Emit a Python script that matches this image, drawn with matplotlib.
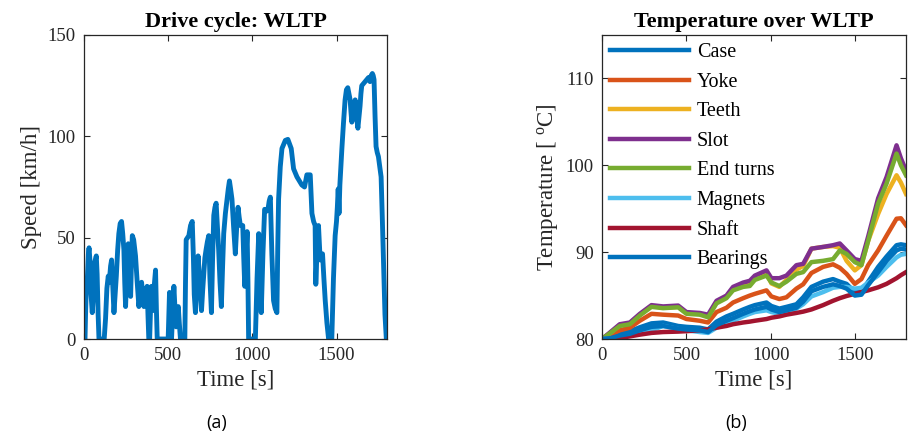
import matplotlib
matplotlib.use("Agg")
import matplotlib.pyplot as plt

# drive cycle
speed_t = [0, 6, 10, 14, 20, 26, 30, 36, 42, 49, 56, 64, 73, 78, 84, 89, 120, 128, 136, 144,
           150, 158, 164, 170, 178, 185, 192, 200, 207, 215, 223, 230, 237, 242, 247, 255,
           263, 270, 277, 282, 287, 295, 306, 316, 326, 334, 342, 349, 356, 365, 375, 380,
           385, 390, 395, 401, 405, 409, 417, 425, 430, 435, 500, 504, 508, 514, 520, 527,
           534, 541, 548, 554, 560, 566, 573, 599, 603, 607, 615, 623, 633, 643, 650, 655,
           662, 670, 678, 688, 698, 705, 712, 718, 725, 733, 741, 748, 757, 764, 771, 778,
           785, 792, 800, 808, 816, 823, 830, 840, 850, 857, 864, 871, 879, 889, 899, 907,
           915, 922, 929, 936, 943, 949, 955, 962, 969, 974, 978, 1018, 1028, 1038, 1045,
           1053, 1063, 1073, 1083, 1093, 1100, 1107, 1116, 1126, 1136, 1146, 1151, 1156,
           1166, 1176, 1196, 1211, 1231, 1245, 1265, 1294, 1310, 1324, 1344, 1354, 1364,
           1373, 1377, 1385, 1393, 1403, 1410, 1417, 1425, 1433, 1443, 1453, 1472, 1482,
           1492, 1500, 1505, 1510, 1515, 1520, 1526, 1532, 1541, 1551, 1559, 1567, 1574,
           1581, 1586, 1591, 1601, 1611, 1619, 1627, 1634, 1640, 1645, 1650, 1660, 1670,
           1680, 1690, 1699, 1706, 1713, 1718, 1723, 1729, 1735, 1742, 1749, 1757, 1765,
           1772, 1780, 1788, 1796, 1800]
speed_v = [0, 0, 15, 25, 30, 42, 45, 38, 22, 13, 22, 38, 41, 32, 12, 0, 0, 10, 25, 31,
           28, 36, 39, 28, 13, 22, 31, 44, 52, 57, 58, 52, 44, 28, 16, 35,
           47, 38, 21, 38, 51, 49, 41, 28, 16, 22, 28, 22, 16, 22, 26, 12,
           0, 0, 14, 26, 20, 14, 26, 34, 15, 0, 0, 12, 23, 10, 0, 14,
           26, 14, 6, 12, 16, 8, 0, 0, 28, 49, 50, 51, 56, 58, 40, 22,
           13, 28, 41, 28, 14, 24, 33, 40, 44, 48, 51, 30, 13, 40, 61, 65,
           67, 56, 44, 28, 16, 35, 52, 62, 69, 74, 78, 74, 69, 55, 42, 55,
           65, 60, 56, 56, 56, 40, 26, 40, 53, 28, 0, 0, 30, 52, 30,
           13, 42, 64, 63, 64, 68, 70, 42, 19, 15, 13, 45, 69,
           85, 94, 98, 98.5, 94, 84, 80, 76, 75, 81, 81, 62, 58,
           56, 27, 45, 56, 39, 42, 42, 30, 19, 8, 0, 0, 30,
           51, 58, 65, 74, 62, 76, 85, 94, 106, 118, 123, 124, 121,
           118, 112, 107, 113, 118, 110, 104, 110, 115, 121, 125, 126, 127,
           128, 129, 127, 130, 131, 130, 128, 110, 95, 92, 90, 85, 80,
           60, 35, 12, 0, 0]

# temperatures (right panel)
temp_t = [0, 50, 105, 165, 224, 293, 362, 451, 500, 579, 628, 678, 737, 776, 836, 875, 905,
          974, 1003, 1050, 1092, 1151, 1191, 1240, 1309, 1368, 1408, 1448, 1497, 1536, 1576,
          1635, 1685, 1744, 1770, 1800]
case = [80.0, 80.2, 80.6, 80.9, 81.35, 81.8, 81.9, 81.5, 81.4, 81.3, 81.1, 82.0, 82.6, 82.9,
        83.4, 83.7, 83.9, 84.2, 83.8, 83.5, 83.7, 84.0, 84.8, 86.0, 86.6, 86.9, 86.6, 86.35,
        85.4, 85.4, 86.6, 88.3, 89.5, 90.8, 90.9, 90.8]
yoke = [80.0, 80.4, 81.0, 81.3, 82.1, 82.9, 82.8, 82.7, 82.3, 82.1, 81.9, 83.1, 83.6, 84.2,
        84.7, 85.0, 85.2, 85.6, 84.9, 84.6, 84.8, 85.8, 86.3, 87.6, 88.3, 88.6, 88.2, 87.5,
        86.35, 86.9, 88.5, 90.2, 91.9, 93.85, 93.9, 93.1]
teeth = [80.0, 80.7, 81.6, 81.8, 82.8, 83.8, 83.6, 83.7, 83.0, 82.9, 82.6, 84.2, 84.9, 85.8,
         86.3, 86.5, 87.0, 87.6, 86.4, 86.0, 86.8, 88.0, 88.4, 90.4, 90.6, 90.7, 90.5, 89.0,
         87.9, 88.5, 91.3, 94.4, 96.7, 98.85, 98.0, 96.7]
slot = [80.0, 80.8, 81.7, 81.9, 82.9, 83.9, 83.75, 83.85, 83.1, 83.0, 82.8, 84.4, 85.0, 86.0,
        86.5, 86.7, 87.3, 87.9, 87.0, 87.0, 87.3, 88.5, 88.65, 90.4, 90.6, 90.8, 91.0, 90.2,
        89.2, 89.0, 91.8, 96.2, 98.65, 102.3, 100.8, 99.4]
end_turns = [80.0, 80.7, 81.5, 81.7, 82.7, 83.7, 83.55, 83.65, 82.9, 82.8, 82.5, 84.1, 84.7,
             85.6, 86.0, 86.1, 86.8, 87.3, 86.5, 86.1, 86.6, 87.5, 87.7, 88.85, 89.0, 89.2,
             90.2, 89.8, 88.85, 88.5, 91.3, 95.6, 97.9, 101.35, 100.0, 98.85]
magnets = [80.0, 80.05, 80.2, 80.4, 80.6, 81.0, 81.5, 81.15, 81.0, 80.8, 80.7, 81.3, 81.7,
           82.1, 82.6, 82.9, 83.1, 83.3, 83.1, 82.9, 83.1, 83.5, 84.0, 84.9, 85.4, 85.9, 86.0,
           86.0, 85.8, 85.9, 86.5, 87.3, 88.3, 89.4, 89.7, 89.8]
shaft = [80.0, 80.0, 80.1, 80.3, 80.5, 80.7, 80.8, 80.85, 80.9, 81.0, 81.1, 81.3, 81.5, 81.7,
         81.9, 82.0, 82.1, 82.3, 82.45, 82.6, 82.8, 83.0, 83.15, 83.4, 83.9, 84.4, 84.7, 84.95,
         85.2, 85.4, 85.6, 85.95, 86.35, 87.0, 87.35, 87.7]
bearings = [80.0, 80.1, 80.4, 80.6, 81.0, 81.4, 81.5, 81.2, 81.1, 81.0, 80.8, 81.6, 82.1,
            82.4, 82.9, 83.2, 83.4, 83.7, 83.4, 83.1, 83.3, 83.6, 84.3, 85.5, 86.0, 86.3, 86.1,
            85.8, 85.0, 85.1, 86.2, 87.7, 89.0, 90.2, 90.4, 90.3]

names = ["Case", "Yoke", "Teeth", "Slot", "End turns", "Magnets", "Shaft", "Bearings"]
series = [case, yoke, teeth, slot, end_turns, magnets, shaft, bearings]
colors = ["#0072BD", "#D95319", "#EDB120", "#7E2F8E", "#77AC30", "#4DBEEE", "#A2142F", "#0072BD"]

plt.rcParams["font.family"] = ["Liberation Serif", "DejaVu Serif"]
plt.rcParams["mathtext.fontset"] = "custom"
plt.rcParams["mathtext.rm"] = "Liberation Serif"
plt.rcParams["mathtext.it"] = "Liberation Serif:italic"

AX_COL = "#262626"

def matlab_style(ax):
    for s in ax.spines.values():
        s.set_color(AX_COL)
        s.set_linewidth(0.9)
    ax.tick_params(direction="in", top=True, right=True, length=4, width=0.8,
                   colors=AX_COL, labelsize=13.5, pad=6)
    for lab in ax.get_xticklabels() + ax.get_yticklabels():
        lab.set_color(AX_COL)

fig = plt.figure(figsize=(9.09, 4.40), dpi=100)
ax1 = fig.add_axes([84 / 909, 101 / 440, 303 / 909, 304 / 440])
ax2 = fig.add_axes([602 / 909, 101 / 440, 304 / 909, 304 / 440])

ax1.plot(speed_t, speed_v, color="#0072BD", lw=3.5, solid_joinstyle="round")
ax1.set_xlim(0, 1800)
ax1.set_ylim(0, 150)
ax1.set_xticks([0, 500, 1000, 1500])
ax1.set_yticks([0, 50, 100, 150])
ax1.set_title("Drive cycle: WLTP", fontsize=16, fontweight="bold", pad=6)
ax1.set_xlabel("Time [s]", fontsize=16.5, color=AX_COL)
ax1.set_ylabel("Speed [km/h]", fontsize=16.5, color=AX_COL)
matlab_style(ax1)

for name, vals, col in zip(names, series, colors):
    ax2.plot(temp_t, vals, color=col, lw=3.2, label=name, solid_joinstyle="round")
ax2.set_xlim(0, 1800)
ax2.set_ylim(80, 115)
ax2.set_xticks([0, 500, 1000, 1500])
ax2.set_yticks([80, 90, 100, 110])
ax2.set_title("Temperature over WLTP", fontsize=16, fontweight="bold", pad=6)
ax2.set_xlabel("Time [s]", fontsize=16.5, color=AX_COL)
ax2.set_ylabel(r"Temperature [ $^{\mathrm{o}}$C]", fontsize=16.5, color=AX_COL)
ax2.legend(loc="upper left", frameon=False, fontsize=14.5, handlelength=3.9,
           handletextpad=0.4, labelspacing=0.52, borderaxespad=0.2, borderpad=0.2)
matlab_style(ax2)

fig.text(217 / 909, 1 - 423 / 440, "(a)", family="Open Sans", fontsize=13,
         ha="center", va="center")
fig.text(736 / 909, 1 - 423 / 440, "(b)", family="Open Sans", fontsize=13,
         ha="center", va="center")

fig.savefig("out.png", dpi=100)
